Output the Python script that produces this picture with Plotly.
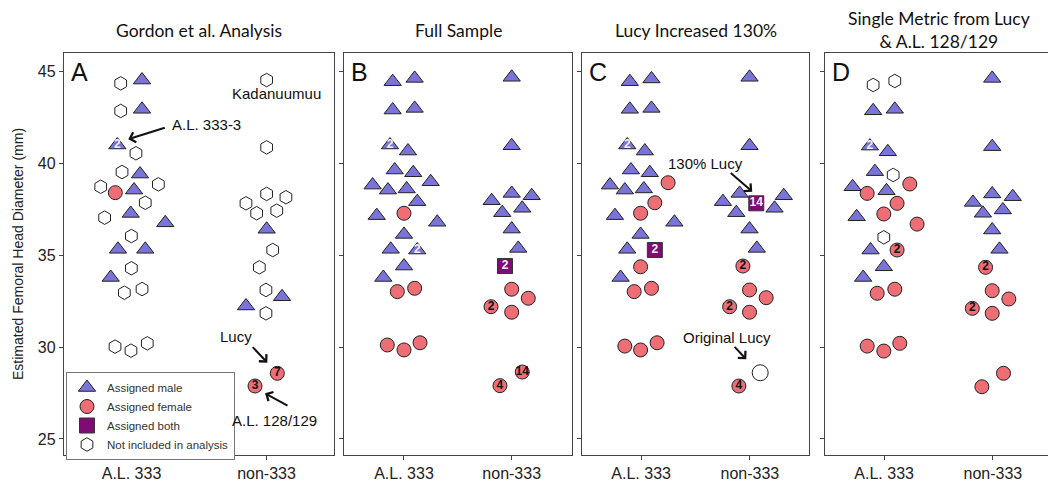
import plotly.graph_objects as go

# ---------------- data ----------------
categories = ["A.L. 333", "non-333"]
cat_pos = [1, 2]
y_ticks = [25, 30, 35, 40, 45]
panel_titles = ["Gordon et al. Analysis", "Full Sample", "Lucy Increased 130%",
                "Single Metric from Lucy<br>& A.L. 128/129"]
panel_letters = ["A", "B", "C", "D"]

# Panel A
A_male_x = [1.078, 1.078, 0.895, 1.063, 1.019, 0.994, 1.250, 0.900, 1.102, 0.846, 2.001, 1.848, 2.115]
A_male_y = [44.51, 42.92, 40.98, 39.40, 38.53, 37.26, 36.75, 35.31, 35.31, 33.78, 36.40, 32.23, 32.73]
A_male_lab = ["", "", "2", "", "", "", "", "", "", "", "", "", ""]
A_female_x = [0.880, 2.080, 1.915]
A_female_y = [38.39, 28.57, 27.88]
A_female_lab = ["", "7", "3"]
A_excl_x = [0.920, 0.920, 1.033, 0.930, 0.772, 1.199, 1.102, 0.801, 0.999, 0.999, 0.947, 1.078,
            0.878, 0.996, 1.117,
            2.001, 2.001, 2.001, 2.144, 1.848, 1.927, 2.076, 2.046, 1.947, 1.996, 1.996]
A_excl_y = [44.33, 42.83, 40.53, 39.51, 38.71, 38.84, 37.84, 37.03, 36.03, 34.28, 32.95, 33.15,
            30.02, 29.80, 30.20,
            44.51, 40.85, 38.32, 38.14, 37.81, 37.27, 37.41, 35.27, 34.33, 33.10, 31.83]

# Panel B
B_male_x = [0.895, 1.099, 0.895, 1.099, 0.870, 1.037, 0.914, 1.086, 0.709, 0.851, 1.025, 1.248,
            1.123, 0.747, 1.309, 1.000, 0.877, 1.123, 1.000, 0.808,
            2.000, 2.000, 2.000, 2.186, 1.814, 2.098, 1.912, 2.000, 2.061]
B_male_y = [44.42, 44.60, 42.88, 42.97, 40.98, 40.65, 39.62, 39.47, 38.80, 38.53, 38.59, 38.98,
            37.90, 37.14, 36.78, 36.12, 35.31, 35.27, 34.40, 33.78,
            44.66, 40.94, 38.35, 38.22, 37.95, 37.54, 37.30, 36.41, 35.36]
B_male_lab = ["", "", "", "", "2", "", "", "", "", "", "", "",
              "", "", "", "", "", "2", "", "",
              "", "", "", "", "", "", "", "", ""]
B_female_x = [1.000, 0.938, 1.099, 0.845, 1.000, 1.149, 2.000, 2.154, 1.808, 2.000, 2.098, 1.891]
B_female_y = [37.27, 33.01, 33.19, 30.11, 29.84, 30.23, 33.14, 32.65, 32.19, 31.89, 28.64, 27.90]
B_female_lab = ["", "", "", "", "", "", "", "", "2", "", "14", "4"]
B_both_x = [1.938]
B_both_y = [34.40]
B_both_lab = ["2"]

# Panel C
C_male_x = [0.896, 1.095, 0.896, 1.095, 0.872, 1.034, 0.906, 1.080, 0.713, 0.850, 1.025, 0.759,
            1.306, 0.995, 0.872, 0.811,
            1.997, 1.997, 1.906, 2.312, 1.752, 2.227, 1.875, 1.997, 2.064]
C_male_y = [44.42, 44.57, 42.92, 42.97, 40.98, 40.65, 39.62, 39.47, 38.80, 38.53, 38.59, 37.14,
            36.78, 36.12, 35.31, 33.78,
            44.66, 40.94, 38.35, 38.22, 37.90, 37.54, 37.30, 36.41, 35.36]
C_male_lab = ["", "", "", "", "2", "", "", "", "", "", "", "",
              "", "", "", "",
              "", "", "", "", "", "", "", "", ""]
C_female_x = [1.248, 1.126, 0.995, 0.995, 0.936, 1.095, 0.850, 0.995, 1.147,
              1.936, 1.997, 2.150, 1.814, 1.997, 1.899]
C_female_y = [38.93, 37.84, 37.27, 34.36, 33.01, 33.19, 30.05, 29.84, 30.23,
              34.40, 33.10, 32.68, 32.19, 31.89, 27.88]
C_female_lab = ["", "", "", "", "", "", "", "", "",
                "2", "", "", "2", "", "4"]
C_both_x = [1.126, 2.059]
C_both_y = [35.27, 37.81]
C_both_lab = ["2", "14"]
C_orig_x = [2.095]
C_orig_y = [28.60]

# Panel D
D_male_x = [0.899, 1.098, 0.869, 1.034, 0.915, 0.710, 1.022, 0.747, 0.875, 0.997, 0.807,
            1.994, 1.994, 1.994, 2.183, 1.817, 2.092, 1.908, 1.994, 2.061]
D_male_y = [42.84, 42.92, 40.92, 40.61, 39.53, 38.71, 38.49, 37.08, 35.27, 34.36, 33.78,
            44.60, 40.89, 38.32, 38.17, 37.86, 37.45, 37.27, 36.36, 35.31]
D_male_lab = ["", "", "2", "", "", "", "", "", "", "", "",
              "", "", "", "", "", "", "", "", ""]
D_female_x = [1.236, 0.844, 1.119, 0.997, 1.303, 1.119, 0.936, 1.098, 0.844, 0.997, 1.144,
              1.933, 1.994, 2.147, 1.811, 1.994, 2.098, 1.899]
D_female_y = [38.86, 38.35, 37.81, 37.23, 36.68, 35.27, 32.92, 33.14, 30.05, 29.78, 30.20,
              34.33, 33.06, 32.61, 32.10, 31.83, 28.57, 27.84]
D_female_lab = ["", "", "", "", "", "2", "", "", "", "", "",
                "2", "", "", "2", "", "", ""]
D_excl_x = [0.899, 1.098, 1.083, 0.997]
D_excl_y = [44.24, 44.46, 39.35, 35.96]

legend_names = ["Assigned male", "Assigned female", "Assigned both", "Not included in analysis"]

# ---------------- styles ----------------
MALE = dict(symbol="triangle-up", size=15, color="#7B74D8", line=dict(color="#222", width=1))
FEMALE = dict(symbol="circle", size=14, color="#EE6E76", line=dict(color="#222", width=1))
BOTH = dict(symbol="square", size=15, color="#7E0C73", line=dict(color="#333", width=1))
EXCL = dict(symbol="hexagon", size=13.5, color="white", line=dict(color="#222", width=1))
OPEN = dict(symbol="circle", size=16, color="white", line=dict(color="#222", width=1))
SANS = "Arial, 'Liberation Sans', sans-serif"
LABFONT_W = dict(family=SANS, size=12, color="#F0F0FF", weight="bold")
LABFONT_K = dict(family=SANS, size=12, color="#111", weight="bold")

fig = go.Figure()

# legend entries
for name, mk in zip(legend_names, [MALE, FEMALE, BOTH, EXCL]):
    fig.add_trace(go.Scatter(x=[None], y=[None], mode="markers", marker=mk, name=name,
                             showlegend=True, xaxis="x", yaxis="y"))

def add(xs, ys, mk, labs=None, font=None, ax=""):
    fig.add_trace(go.Scatter(
        x=xs, y=ys, mode="markers+text" if labs else "markers", marker=mk,
        text=labs, textposition="middle center", textfont=font,
        showlegend=False, hoverinfo="skip",
        xaxis="x" + ax, yaxis="y" + ax, cliponaxis=False))

# Panel A
add(A_excl_x, A_excl_y, EXCL)
add(A_male_x, A_male_y, MALE, A_male_lab, LABFONT_W)
add(A_female_x, A_female_y, FEMALE, A_female_lab, LABFONT_K)
# Panel B
add(B_male_x, B_male_y, MALE, B_male_lab, LABFONT_W, "2")
add(B_female_x, B_female_y, FEMALE, B_female_lab, LABFONT_K, "2")
add(B_both_x, B_both_y, BOTH, B_both_lab, LABFONT_W, "2")
# Panel C
add(C_male_x, C_male_y, MALE, C_male_lab, LABFONT_W, "3")
add(C_female_x, C_female_y, FEMALE, C_female_lab, LABFONT_K, "3")
add(C_both_x, C_both_y, BOTH, C_both_lab, LABFONT_W, "3")
add(C_orig_x, C_orig_y, OPEN, None, None, "3")
# Panel D
add(D_excl_x, D_excl_y, EXCL, None, None, "4")
add(D_male_x, D_male_y, MALE, D_male_lab, LABFONT_W, "4")
add(D_female_x, D_female_y, FEMALE, D_female_lab, LABFONT_K, "4")

# ---------------- layout ----------------
OFF = 8                      # page body margin
W, H = 1056 - OFF, 489 - OFF

def px(x):
    return (x - OFF) / W

def py(y):
    return 1 - (y - OFF) / H

x_domains_px = [(64, 334), (344, 572), (582, 809), (825, 1052)]
x_ranges = [[0.5, 2.5], [0.443, 2.56], [0.456, 2.544], [0.456, 2.544]]
y_dom = [py(455), py(53)]
y_range = [24.13, 45.98]

AX_LINE = "#444"
TICKFONT = dict(family=SANS, size=16, color="#222")

layout = dict(
    width=W, height=H, margin=dict(l=0, r=0, t=0, b=0),
    paper_bgcolor="white", plot_bgcolor="white",
    showlegend=True,
    legend=dict(x=px(66), y=py(372), xanchor="left", yanchor="top",
                bgcolor="white", bordercolor="#777", borderwidth=1,
                font=dict(family=SANS, size=11.5, color="#333"),
                tracegroupgap=0, itemsizing="trace"),
)
for i, ((l, r), xr) in enumerate(zip(x_domains_px, x_ranges)):
    sfx = "" if i == 0 else str(i + 1)
    layout["xaxis" + sfx] = dict(
        domain=[px(l), px(r)], range=xr, anchor="y" + sfx,
        tickvals=cat_pos, ticktext=categories, tickfont=TICKFONT,
        showline=True, mirror=True, linecolor=AX_LINE, linewidth=1.3,
        ticks="outside", ticklen=4, tickcolor=AX_LINE, showgrid=False, zeroline=False)
    layout["yaxis" + sfx] = dict(
        domain=y_dom, range=y_range, anchor="x" + sfx,
        tickvals=y_ticks, showticklabels=(i == 0), tickfont=TICKFONT,
        showline=True, mirror=True, linecolor=AX_LINE, linewidth=1.3,
        ticks="outside", ticklen=4, tickcolor=AX_LINE, showgrid=False, zeroline=False)
fig.update_layout(**layout)

TITLEFONT = dict(family="Lato", size=17.5, color="#111")
ann = []
for i, ((l, r), t) in enumerate(zip(x_domains_px, panel_titles)):
    ann.append(dict(text=t, x=px((l + r) / 2), y=py(30), xref="paper", yref="paper",
                    xanchor="center", yanchor="middle", showarrow=False, font=TITLEFONT))
    ann.append(dict(text=panel_letters[i], x=px(l + 5), y=py(56), xref="paper", yref="paper",
                    xanchor="left", yanchor="top", showarrow=False,
                    font=dict(family=SANS, size=25, color="#111")))
ann.append(dict(text="Estimated Femoral Head Diameter (mm)", x=px(18), y=py(254),
                xref="paper", yref="paper", textangle=-90, showarrow=False,
                xanchor="center", yanchor="middle",
                font=dict(family=SANS, size=14, color="#222")))

NOTEFONT = dict(family=SANS, size=15, color="#111")
ARROW = dict(showarrow=True, arrowhead=4, arrowsize=1, arrowwidth=2, arrowcolor="#111",
             standoff=0, axref="pixel", ayref="pixel", text="")
# panel A notes
ann.append(dict(text="A.L. 333-3", x=1.285, y=42.07, xref="x", yref="y", xanchor="left",
                showarrow=False, font=NOTEFONT))
ann.append(dict(x=0.976, y=41.29, xref="x", yref="y", ax=38, ay=-12, **ARROW))
ann.append(dict(text="Kadanuumuu", x=2.076, y=43.80, xref="x", yref="y",
                showarrow=False, font=NOTEFONT))
ann.append(dict(text="Lucy", x=1.774, y=30.56, xref="x", yref="y",
                showarrow=False, font=NOTEFONT))
ann.append(dict(x=2.006, y=29.15, xref="x", yref="y", ax=-16, ay=-17, **ARROW))
ann.append(dict(text="A.L. 128/129", x=2.056, y=26.0, xref="x", yref="y",
                showarrow=False, font=NOTEFONT))
ann.append(dict(x=1.989, y=27.48, xref="x", yref="y", ax=24, ay=13, **ARROW))
# panel C notes
ann.append(dict(text="130% Lucy", x=1.594, y=39.98, xref="x3", yref="y3",
                showarrow=False, font=NOTEFONT))
ann.append(dict(x=2.022, y=38.44, xref="x3", yref="y3", ax=-23, ay=-20, **ARROW))
ann.append(dict(text="Original Lucy", x=1.786, y=30.51, xref="x3", yref="y3",
                showarrow=False, font=NOTEFONT))
ann.append(dict(x=1.967, y=29.33, xref="x3", yref="y3", ax=-13, ay=-14, **ARROW))

fig.update_layout(annotations=ann)
fig.write_html("out.html")
